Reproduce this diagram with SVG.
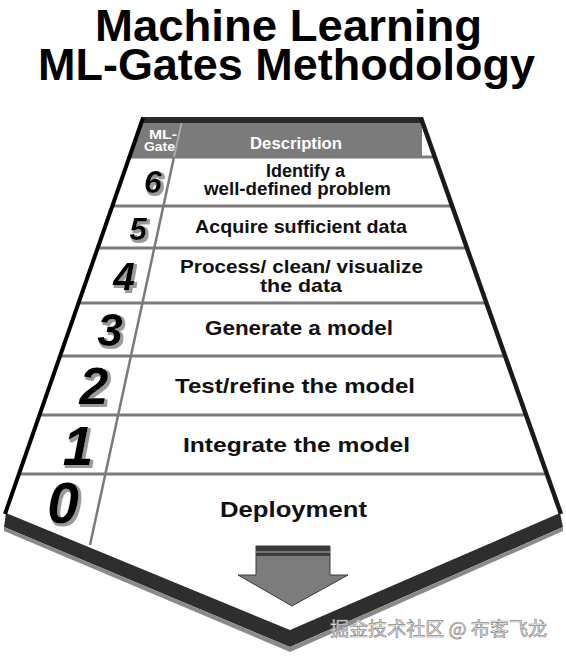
<svg xmlns="http://www.w3.org/2000/svg" width="566" height="657" viewBox="0 0 566 657">
<defs>
<style>
.title{font-family:"Liberation Sans",Arial,sans-serif;font-weight:bold;font-size:45px;fill:#000}
.lbl{font-family:"Liberation Sans",Arial,sans-serif;font-weight:bold;fill:#111}
.hdr{font-family:"Liberation Sans",Arial,sans-serif;font-weight:bold;fill:#fff}
.num{font-family:"Liberation Sans",Arial,sans-serif;font-weight:bold;font-style:italic;fill:#000;text-anchor:middle;filter:url(#shadow)}
.sep{stroke:#7a7a7a;stroke-width:3}
.wm{font-family:"Noto Sans CJK SC","Liberation Sans",sans-serif;font-size:19px;fill:#f4f4f4;stroke:#8a8a8a;stroke-width:0.7}
</style>
<filter id="shadow" x="-30%" y="-30%" width="160%" height="160%">
<feOffset in="SourceAlpha" dx="2" dy="2" result="o"/>
<feMorphology in="o" operator="dilate" radius="0.6" result="d"/>
<feFlood flood-color="#9a9a9a"/>
<feComposite in2="d" operator="in" result="s"/>
<feMerge><feMergeNode in="s"/><feMergeNode in="SourceGraphic"/></feMerge>
</filter>
<clipPath id="inner"><polygon points="143,120 422,120 560,513 290,630 6,513"/></clipPath>
</defs>
<rect width="566" height="657" fill="#fff"/>
<g id="title">
<text class="title" x="95" y="41" textLength="387" lengthAdjust="spacingAndGlyphs">Machine Learning</text>
<text class="title" x="38" y="80" textLength="497" lengthAdjust="spacingAndGlyphs">ML-Gates Methodology</text>
</g>
<g id="frame">
<polygon points="143,120 422,120 560,513 290,630 6,513" fill="#fff"/>
<polygon points="143,120 422,120 422,157 130,157" fill="#7b7b7b" clip-path="url(#inner)"/>
<polygon points="6,513 290,630 560,513 563,527 290,647 4,527" fill="#2e2e2e"/>
<polygon points="4,527 290,647 563,527 563,531 290,652 4,531" fill="#8a8a8a"/>
<g clip-path="url(#inner)">
<line class="sep" x1="0" y1="157" x2="566" y2="157"/>
<line class="sep" x1="0" y1="206" x2="566" y2="206"/>
<line class="sep" x1="0" y1="248" x2="566" y2="248"/>
<line class="sep" x1="0" y1="303" x2="566" y2="303"/>
<line class="sep" x1="0" y1="356" x2="566" y2="356"/>
<line class="sep" x1="0" y1="415" x2="566" y2="415"/>
<line class="sep" x1="0" y1="474" x2="566" y2="474"/>
<line x1="182" y1="121" x2="174" y2="157" stroke="#aaa" stroke-width="2"/>
<line x1="174" y1="157" x2="90" y2="545" stroke="#7a7a7a" stroke-width="2.5"/>
</g>
<line x1="141" y1="120" x2="423" y2="120" stroke="#2a2a2a" stroke-width="6"/>
<line x1="143" y1="118" x2="5" y2="514" stroke="#000" stroke-width="4"/>
<line x1="421" y1="118" x2="561" y2="514" stroke="#1a1a1a" stroke-width="4.5"/>
</g>
<g id="header">
<text class="hdr" x="149" y="139" font-size="12" textLength="28" lengthAdjust="spacingAndGlyphs">ML-</text>
<text class="hdr" x="144" y="151" font-size="12" textLength="31" lengthAdjust="spacingAndGlyphs">Gate</text>
<text class="hdr" x="250" y="149" font-size="17" textLength="92" lengthAdjust="spacingAndGlyphs">Description</text>
</g>
<g id="gate6">
<text class="num" x="153" y="193" font-size="32">6</text>
<text class="lbl" x="266" y="177" font-size="17.5" textLength="79" lengthAdjust="spacingAndGlyphs">Identify a</text>
<text class="lbl" x="204" y="195" font-size="17.5" textLength="187" lengthAdjust="spacingAndGlyphs">well-defined problem</text>
</g>
<g id="gate5">
<text class="num" x="138" y="240" font-size="31">5</text>
<text class="lbl" x="195" y="233" font-size="18.5" textLength="212" lengthAdjust="spacingAndGlyphs">Acquire sufficient data</text>
</g>
<g id="gate4">
<text class="num" x="124" y="290" font-size="39">4</text>
<text class="lbl" x="180" y="273" font-size="18.5" textLength="243" lengthAdjust="spacingAndGlyphs">Process/ clean/ visualize</text>
<text class="lbl" x="260" y="292" font-size="18.5" textLength="82" lengthAdjust="spacingAndGlyphs">the data</text>
</g>
<g id="gate3">
<text class="num" x="110" y="346" font-size="46">3</text>
<text class="lbl" x="205" y="335" font-size="20.5" textLength="188" lengthAdjust="spacingAndGlyphs">Generate  a model</text>
</g>
<g id="gate2">
<text class="num" x="94" y="404" font-size="52">2</text>
<text class="lbl" x="175" y="393" font-size="21" textLength="240" lengthAdjust="spacingAndGlyphs">Test/refine the model</text>
</g>
<g id="gate1">
<text class="num" x="78" y="465" font-size="55">1</text>
<text class="lbl" x="183" y="452" font-size="21" textLength="227" lengthAdjust="spacingAndGlyphs">Integrate the model</text>
</g>
<g id="gate0">
<text class="num" x="63" y="523" font-size="57">0</text>
<text class="lbl" x="220" y="517" font-size="21.5" textLength="147" lengthAdjust="spacingAndGlyphs">Deployment</text>
</g>
<g id="connectors">
<polygon points="256,546 330,546 330,575 348,575 292,606 238,575 256,575" fill="#7c7c7c" stroke="#3a3a3a" stroke-width="1"/>
<rect x="256" y="546" width="74" height="10" fill="#3a3a3a"/>
<line x1="256" y1="552" x2="330" y2="552" stroke="#8a8a8a" stroke-width="1.5"/>
</g>
<text class="wm" x="330" y="636" textLength="217" lengthAdjust="spacingAndGlyphs">掘金技术社区 @ 布客飞龙</text>
</svg>
